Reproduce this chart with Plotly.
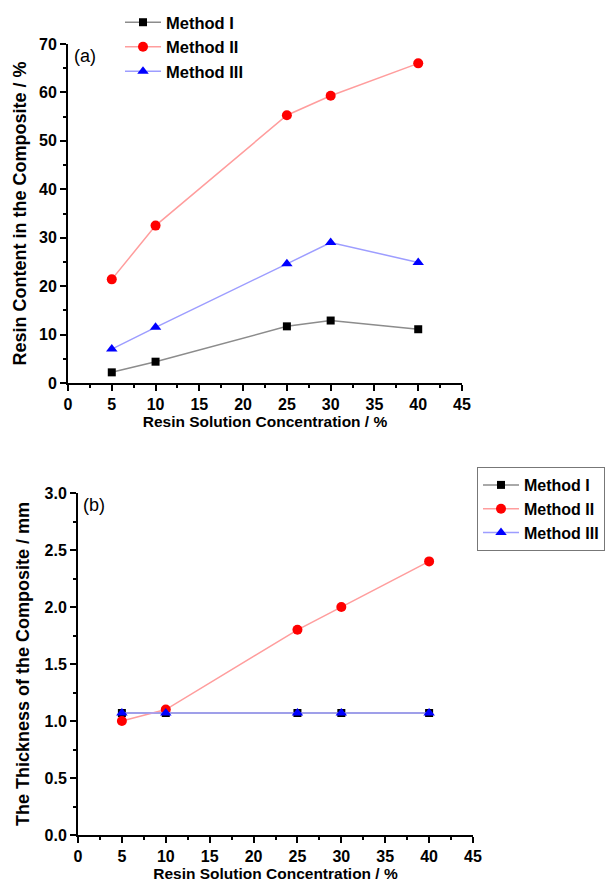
import plotly.graph_objects as go

conc = [5, 10, 25, 30, 40]
names = ["Method I", "Method II", "Method III"]

# Panel (a): resin content (%)
resin_m1 = [2.2, 4.4, 11.7, 12.9, 11.1]
resin_m2 = [21.4, 32.5, 55.3, 59.3, 66.0]
resin_m3 = [7.0, 11.5, 24.6, 29.0, 24.9]

# Panel (b): thickness (mm)
thick_m1 = [1.07, 1.07, 1.07, 1.07, 1.07]
thick_m2 = [1.0, 1.1, 1.8, 2.0, 2.4]
thick_m3 = [1.07, 1.07, 1.07, 1.07, 1.07]

line_colors = ["#8c8c8c", "#ff9d9d", "#9d9dff"]
marker_colors = ["#000000", "#ff0000", "#0000ff"]
symbols = ["square", "circle", "triangle-up"]
msizes = [8, 10, 10]

FONT = "Liberation Sans"

fig = go.Figure()

for i, ys in enumerate([resin_m1, resin_m2, resin_m3]):
    fig.add_trace(go.Scatter(
        x=conc, y=ys, mode="lines+markers", name=names[i],
        line=dict(color=line_colors[i], width=1.5),
        marker=dict(symbol=symbols[i], color=marker_colors[i], size=msizes[i]),
        xaxis="x", yaxis="y", legend="legend"))

for i, ys in enumerate([thick_m1, thick_m2, thick_m3]):
    fig.add_trace(go.Scatter(
        x=conc, y=ys, mode="lines+markers", name=names[i],
        line=dict(color=line_colors[i], width=1.5),
        marker=dict(symbol=symbols[i], color=marker_colors[i], size=msizes[i]),
        xaxis="x2", yaxis="y2", legend="legend2"))

tickfont = dict(family=FONT, size=16, color="black", weight="bold")
xtitlefont = dict(family=FONT, size=15.5, color="black", weight="bold")
ytitlefont = dict(family=FONT, size=18, color="black", weight="bold")

def xaxis(domain, anchor):
    return dict(domain=domain, anchor=anchor, range=[0, 45], dtick=5, tick0=0,
                showline=True, linecolor="black", linewidth=2, mirror=False,
                ticks="outside", ticklen=6, tickwidth=1.5, tickcolor="black",
                minor=dict(ticks="outside", ticklen=3, dtick=2.5, tickcolor="black", tickwidth=1.5),
                showgrid=False, zeroline=False, tickfont=tickfont, automargin=False,
                title=dict(text="Resin Solution Concentration / %", font=xtitlefont, standoff=2))

def yaxis(domain, anchor, rng, dtick, mdtick, fmt, title, standoff):
    return dict(domain=domain, anchor=anchor, range=rng, dtick=dtick, tick0=0,
                showline=True, linecolor="black", linewidth=2, mirror=False,
                ticks="outside", ticklen=6, tickwidth=1.5, tickcolor="black",
                minor=dict(ticks="outside", ticklen=3, dtick=mdtick, tickcolor="black", tickwidth=1.5),
                showgrid=False, zeroline=False, tickfont=tickfont, tickformat=fmt,
                automargin=False,
                title=dict(text=title, font=ytitlefont, standoff=standoff))

fig.update_layout(
    width=612, height=885,
    margin=dict(l=0, r=0, t=0, b=0),
    paper_bgcolor="white", plot_bgcolor="white",
    xaxis=xaxis([68 / 612, 462 / 612], "y"),
    yaxis=yaxis([1 - 383 / 885, 1 - 44 / 885], "x", [0, 70], 10, 5, "d",
                "Resin Content in the Composite / %", 8),
    xaxis2=xaxis([78 / 612, 473 / 612], "y2"),
    yaxis2=yaxis([1 - 835 / 885, 1 - 493 / 885], "x2", [0, 3.0], 0.5, 0.25, ".1f",
                 "The Thickness of the Composite / mm", 10),
    legend=dict(x=120 / 612, y=1 - 5 / 885, xanchor="left", yanchor="top",
                bgcolor="rgba(0,0,0,0)", borderwidth=0,
                font=dict(family=FONT, size=16.5, color="black", weight="bold"),
                tracegroupgap=0, itemwidth=36),
    legend2=dict(x=477 / 612, y=1 - 467 / 885, xanchor="left", yanchor="top",
                 bgcolor="white", bordercolor="#777777", borderwidth=1,
                 font=dict(family=FONT, size=16, color="black", weight="bold"),
                 tracegroupgap=0, itemwidth=36),
    annotations=[
        dict(text="(a)", x=72 / 612, y=1 - 44 / 885, xref="paper", yref="paper",
             xanchor="left", yanchor="top", showarrow=False,
             font=dict(family=FONT, size=18, color="black")),
        dict(text="(b)", x=81 / 612, y=1 - 493 / 885, xref="paper", yref="paper",
             xanchor="left", yanchor="top", showarrow=False,
             font=dict(family=FONT, size=18, color="black")),
    ],
)

fig.write_html("out.html")
